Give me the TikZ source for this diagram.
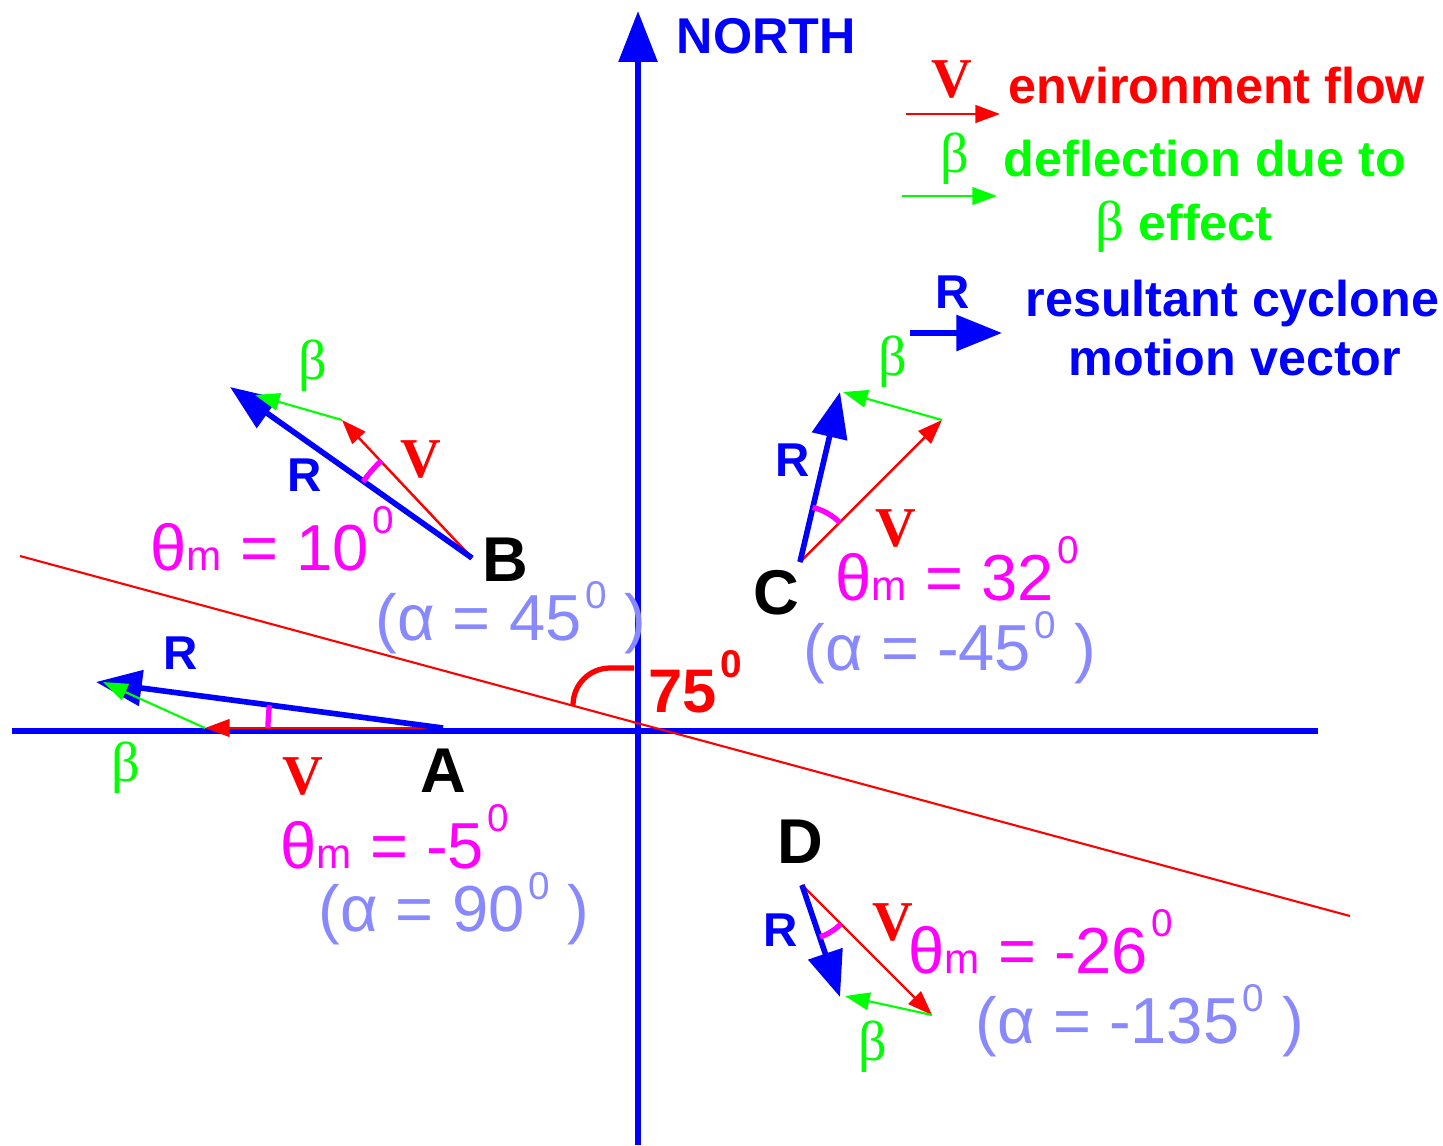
\documentclass[tikz,border=0pt]{standalone}
\usepackage{fontspec}
\setmainfont{Liberation Sans}
\newfontfamily\grkserif{Liberation Serif}
\usepackage{tikz}
\usetikzlibrary{arrows.meta}
\definecolor{flowred}{RGB}{255,0,0}
\definecolor{betagreen}{RGB}{0,255,0}
\definecolor{resblue}{RGB}{0,0,255}
\definecolor{thetamag}{RGB}{255,0,255}
\definecolor{alphablue}{RGB}{136,136,255}
\newcommand{\supz}{\kern1pt\smash{\raisebox{0.56em}{\fontsize{11}{12}\selectfont 0}}}
\newcommand{\supa}{\kern1pt\smash{\raisebox{0.48em}{\fontsize{11}{12}\selectfont 0}}}
\newcommand{\thm}{θ{\fontsize{12}{12}\selectfont m}}
\tikzset{
    axis/.style={draw, resblue, line width=1.7pt},
    refline/.style={draw, flowred, line width=0.6pt},
    vvec/.style={draw, flowred, line width=0.7pt, -{Triangle[length=7pt,width=5pt]}},
    bvec/.style={draw, betagreen, line width=0.6pt, -{Triangle[length=7pt,width=5pt]}},
    rvec/.style={draw, resblue, line width=1.6pt, -{Triangle[length=13pt,width=10pt]}},
    thmark/.style={draw, thetamag, line width=1.5pt},
    ptlbl/.style={font=\bfseries\fontsize{18}{20}\selectfont, text=black, inner sep=1pt},
    rlbl/.style={font=\bfseries\fontsize{13.5}{15}\selectfont, text=resblue},
    vlbl/.style={font=\grkserif\bfseries\fontsize{16}{18}\selectfont, text=flowred},
    blbl/.style={font=\grkserif\fontsize{16}{18}\selectfont, text=betagreen},
    thlbl/.style={font=\fontsize{18.5}{20}\selectfont, text=thetamag, anchor=base west, inner sep=0pt, text depth=0pt},
    allbl/.style={font=\fontsize{18.5}{20}\selectfont, text=alphablue, anchor=base west, inner sep=0pt},
    legtxt/.style={font=\bfseries\fontsize{14.3}{16}\selectfont, anchor=base west, inner sep=0pt}
}

\begin{document}
\begin{tikzpicture}[x=0.01cm, y=-0.01cm]
    \useasboundingbox (0,0) rectangle (1443,1145);

    % --- AXES AND REFERENCE LINE ---
    \coordinate (xW) at (12,731);
    \coordinate (xE) at (1318,731);
    \coordinate (yS) at (638,1145);
    \coordinate (yN) at (638,11);
    \draw[axis] (xW) -- (xE);
    \draw[axis, -{Triangle[length=14.5pt,width=10.8pt]}] (yS) -- (yN);
    \node[legtxt, text=resblue] (north) at (676,53) {NORTH};

    \coordinate (rl1) at (20,556);
    \coordinate (rl2) at (1350,916);
    \draw[refline] (rl1) -- (rl2);

    % 75 degree angle
    \coordinate (arcTop) at (634,668);
    \draw[flowred, line width=1.5pt] (arcTop) -- (610,668) arc[start angle=270, end angle=180, radius=37];
    \node[font=\bfseries\fontsize{17.5}{19}\selectfont, text=flowred, anchor=base west, inner sep=0pt] (ang) at (648,712) {75\supz};

    % --- POINT A ---
    \coordinate (A) at (443,728);
    \coordinate (Av) at (205,728);
    \coordinate (Ar) at (96,682);
    \coordinate (Ab) at (103,682);
    \draw[vvec] (A) -- (Av);
    \draw[rvec] (A) -- (Ar);
    \draw[bvec] (Av) -- (Ab);
    \draw[thmark] (A) ++(180:175) arc[start angle=180, end angle=187.5, radius=175];
    \node[rlbl] (rA) at (181,653) {R};
    \node[blbl] (bA) at (126,768) {β};
    \node[vlbl] (vA) at (303,776) {V};
    \node[ptlbl] (ptA) at (443,771) {A};
    \node[thlbl] (thA) at (280,868) {\thm{} = -5\supz};
    \node[allbl] (alA) at (318,931) {(α = 90\supa\ )};

    % --- POINT B ---
    \coordinate (B) at (472,558);
    \coordinate (Bv) at (342,420);
    \coordinate (Br) at (230,387);
    \coordinate (Bb) at (255,395);
    \draw[vvec] (B) -- (Bv);
    \draw[rvec] (B) -- (Br);
    \draw[bvec] (Bv) -- (Bb);
    \draw[thmark] (B) ++(215:133) arc[start angle=215, end angle=227, radius=133];
    \node[blbl] (bB) at (313,366) {β};
    \node[vlbl] (vB) at (421,459) {V};
    \node[rlbl] (rB) at (305,475) {R};
    \node[ptlbl] (ptB) at (505,560) {B};
    \node[thlbl] (thB) at (150,570) {\thm{} = 10\supz};
    \node[allbl] (alB) at (375,640) {(α = 45\supa\ )};

    % --- POINT C ---
    \coordinate (C) at (800,562);
    \coordinate (Cv) at (942,420);
    \coordinate (Cr) at (840,392);
    \coordinate (Cb) at (843,392);
    \draw[vvec] (C) -- (Cv);
    \draw[rvec] (C) -- (Cr);
    \draw[bvec] (Cv) -- (Cb);
    \draw[thmark] (C) ++(283:56) arc[start angle=283, end angle=315, radius=56];
    \node[blbl] (bC) at (893,362) {β};
    \node[rlbl] (rC) at (793,460) {R};
    \node[vlbl] (vC) at (896,528) {V};
    \node[ptlbl] (ptC) at (776,593) {C};
    \node[thlbl] (thC) at (835,600) {\thm{} = 32\supz};
    \node[allbl] (alC) at (803,670) {(α = -45\supa\ )};

    % --- POINT D ---
    \coordinate (D) at (802,885);
    \coordinate (Dv) at (932,1015);
    \coordinate (Dr) at (840,997);
    \coordinate (Db) at (845,996);
    \draw[vvec] (D) -- (Dv);
    \draw[rvec] (D) -- (Dr);
    \draw[bvec] (Dv) -- (Db);
    \draw[thmark] (D) ++(45:55) arc[start angle=45, end angle=71, radius=55];
    \node[ptlbl] (ptD) at (800,842) {D};
    \node[rlbl] (rD) at (781,930) {R};
    \node[vlbl] (vD) at (893,922) {V};
    \node[blbl] (bD) at (873,1047) {β};
    \node[thlbl] (thD) at (908,973) {\thm{} = -26\supz};
    \node[allbl] (alD) at (975,1043) {(α = -135\supa\ )};

    % --- LEGEND ---
    \coordinate (lv1) at (906,114);
    \coordinate (lv2) at (1000,114);
    \coordinate (lb1) at (902,196);
    \coordinate (lb2) at (997,196);
    \coordinate (lr1) at (910,333);
    \coordinate (lr2) at (1002,333);
    \node[vlbl] (legV) at (952,80) {V};
    \draw[vvec] (lv1) -- (lv2);
    \node[legtxt, text=flowred] (legVtxt) at (1008,103) {environment flow};
    \node[blbl] (legB) at (955,159) {β};
    \draw[bvec] (lb1) -- (lb2);
    \node[legtxt, text=betagreen] (legBtxt) at (1003,176) {deflection due to};
    \node[legtxt, text=betagreen] (legBtxt2) at (1095,240) {{\grkserif\mdseries\fontsize{16}{18}\selectfont β} effect};
    \node[rlbl] (legR) at (953,292) {R};
    \draw[rvec] (lr1) -- (lr2);
    \node[legtxt, text=resblue] (legRtxt) at (1025,316) {resultant cyclone};
    \node[legtxt, text=resblue] (legRtxt2) at (1068,375) {motion vector};

\end{tikzpicture}
\end{document}
